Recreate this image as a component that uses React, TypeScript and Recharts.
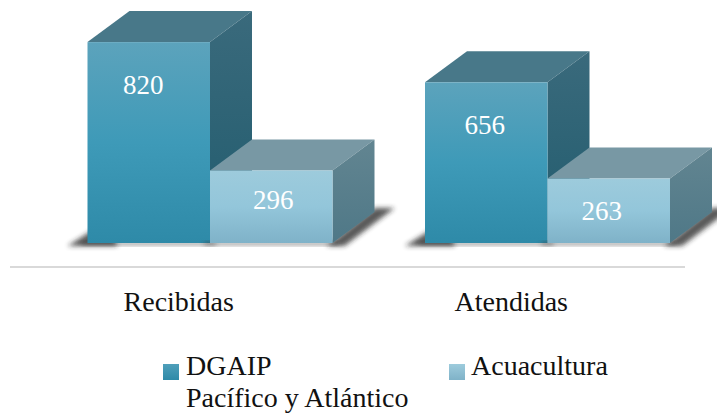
import React from 'react';
import { BarChart, Bar, XAxis, YAxis, Legend, LabelList } from 'recharts';

const categories = ['Recibidas', 'Atendidas'];
const dgaipValues = [820, 656];
const acuaculturaValues = [296, 263];
const seriesNames = ['DGAIP\nPacífico y Atlántico', 'Acuacultura'];

const chartData = categories.map((name, i) => ({
  name,
  dgaip: dgaipValues[i],
  acuacultura: acuaculturaValues[i],
}));

const FONT = '"Liberation Serif", serif';
// desplazamiento de la pseudo-perspectiva 3D
const SHIFT_X = 31.5;
const SHIFT_Y = -24;
const DEPTH_X = 42;
const DEPTH_Y = -31;

const Box3D = ({ x, y, width, height, dark }: any) => {
  const l = x + SHIFT_X;
  const r = l + width;
  const t = y + SHIFT_Y;
  const b = t + height;
  const tone = dark ? 'Dark' : 'Light';
  return (
    <g>
      {dark ? (
        <polygon points={`${l + 20},${b - 22} ${l + 30},${b + 3} ${l - 20},${b + 3}`} fill="#222" opacity={0.75} filter="url(#soft)" />
      ) : (
        <polygon points={`${r - 6},${b + 3} ${r + DEPTH_X},${b + DEPTH_Y - 4} ${r + DEPTH_X + 20},${b + DEPTH_Y - 4} ${r + 12},${b + 3}`} fill="#222" opacity={0.75} filter="url(#soft)" />
      )}
      <rect x={l - 6} y={b - 1} width={width + 12} height={3} fill="#333" opacity={0.6} filter="url(#soft)" />
      <polygon points={`${l},${t} ${l + DEPTH_X},${t + DEPTH_Y} ${r + DEPTH_X},${t + DEPTH_Y} ${r},${t}`} fill={dark ? '#487889' : '#7898A4'} />
      <polygon points={`${r},${t} ${r + DEPTH_X},${t + DEPTH_Y} ${r + DEPTH_X},${b + DEPTH_Y} ${r},${b}`} fill={`url(#side${tone})`} />
      <rect x={l} y={t} width={width} height={height} fill={`url(#front${tone})`} />
    </g>
  );
};

// pequeños ajustes de las etiquetas respecto al centro de cada barra
const labelNudgeX = { dgaip: [-5.5, -1.5], acuacultura: [2, -7] };
const labelDrop = { dgaip: [46, 46], acuacultura: [32, 35] };
const tickNudgeX = [0, -5];

const renderLabel = (key: 'dgaip' | 'acuacultura') => (props: any) => {
  const { x, y, width, value, index } = props;
  return (
    <text
      x={x + SHIFT_X + width / 2 + labelNudgeX[key][index]}
      y={y + SHIFT_Y + labelDrop[key][index]}
      textAnchor="middle"
      dominantBaseline="middle"
      fontFamily={FONT}
      fontSize={27}
      fill="#fff"
    >
      {value}
    </text>
  );
};

const renderTick = ({ x, y, payload, index }: any) => (
  <text
    x={x + tickNudgeX[index]}
    y={y}
    dy={19}
    textAnchor="middle"
    fontFamily={FONT}
    fontSize={28}
    fill="#111"
  >
    {payload.value}
  </text>
);

const legendSwatches = [
  { left: 163, text: 186, bg: 'linear-gradient(#4F9FBA, #2E8AA8)' },
  { left: 449, text: 471, bg: 'linear-gradient(#9DCBDC, #7FB2C8)' },
];

const renderLegend = () => (
  <div style={{ position: 'relative', width: 717, height: 60, fontFamily: FONT, fontSize: 28, lineHeight: '32px', color: '#111' }}>
    {seriesNames.map((name, i) => (
      <React.Fragment key={name}>
        <div style={{ position: 'absolute', left: legendSwatches[i].left, top: 10, width: 16, height: 16, background: legendSwatches[i].bg }} />
        <div style={{ position: 'absolute', left: legendSwatches[i].text, top: -4, whiteSpace: 'pre' }}>{name}</div>
      </React.Fragment>
    ))}
  </div>
);

export default function App() {
  return (
    <div style={{ position: 'absolute', left: 0, top: 0, width: 717, height: 414, overflow: 'hidden', background: '#fff' }}>
      <BarChart
        width={717}
        height={414}
        data={chartData}
        margin={{ top: 22, right: 32, bottom: 47, left: 10 }}
        barSize={122.5}
        barGap={0}
      >
        <defs>
          <linearGradient id="frontDark" x1="0" y1="0" x2="0" y2="1">
            <stop offset="0" stopColor="#5CA3BC" />
            <stop offset="0.5" stopColor="#3E9AB8" />
            <stop offset="1" stopColor="#2E8AA8" />
          </linearGradient>
          <linearGradient id="frontLight" x1="0" y1="0" x2="0" y2="1">
            <stop offset="0" stopColor="#9DCBDC" />
            <stop offset="0.5" stopColor="#93C6DA" />
            <stop offset="1" stopColor="#7FB2C8" />
          </linearGradient>
          <linearGradient id="sideDark" x1="0" y1="0" x2="0" y2="1">
            <stop offset="0" stopColor="#3A6A7C" />
            <stop offset="1" stopColor="#215C6E" />
          </linearGradient>
          <linearGradient id="sideLight" x1="0" y1="0" x2="0" y2="1">
            <stop offset="0" stopColor="#628591" />
            <stop offset="1" stopColor="#4F7887" />
          </linearGradient>
          <filter id="soft" x="-30%" y="-60%" width="160%" height="220%">
            <feGaussianBlur stdDeviation="2.5" />
          </filter>
        </defs>
        <XAxis
          dataKey="name"
          height={40}
          tickSize={0}
          tickMargin={25}
          axisLine={{ stroke: '#d9d9d9', strokeWidth: 2 }}
          tickLine={false}
          tick={renderTick}
        />
        <YAxis hide domain={[0, 1000]} />
        <Legend
          content={renderLegend}
          wrapperStyle={{ left: 0, top: 354, width: 717 }}
        />
        <Bar dataKey="dgaip" name={seriesNames[0]} fill="#3E9AB8" isAnimationActive={false} shape={(p: any) => <Box3D {...p} dark />}>
          <LabelList dataKey="dgaip" content={renderLabel('dgaip')} />
        </Bar>
        <Bar dataKey="acuacultura" name={seriesNames[1]} fill="#93C6DA" isAnimationActive={false} shape={(p: any) => <Box3D {...p} />}>
          <LabelList dataKey="acuacultura" content={renderLabel('acuacultura')} />
        </Bar>
      </BarChart>
    </div>
  );
}
